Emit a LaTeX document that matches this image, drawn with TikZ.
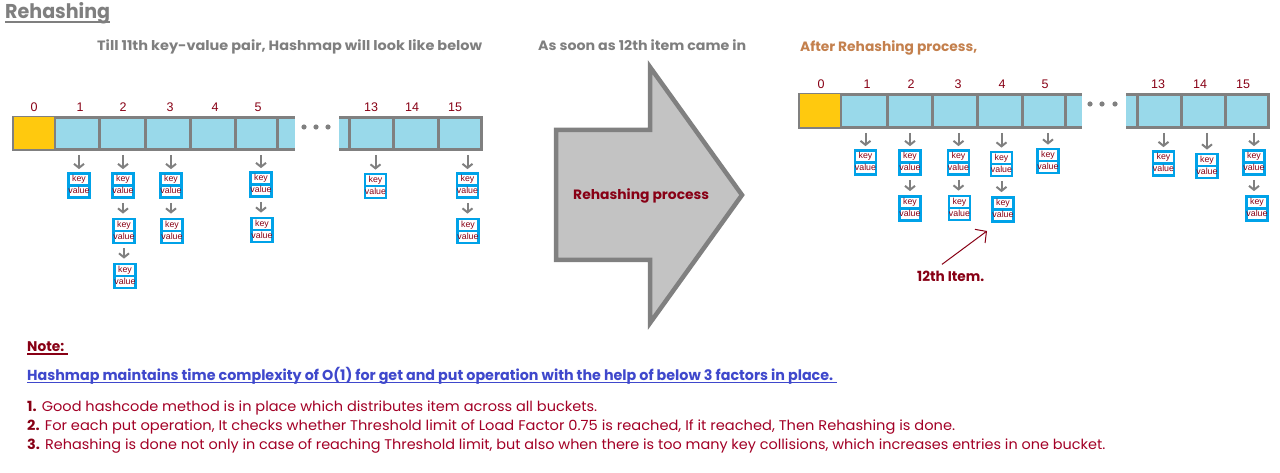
\documentclass[tikz,border=0pt]{standalone}
\usepackage{fontspec}
\usepackage{graphicx}
\setmainfont{Poppins}
\newfontfamily\arialf{Liberation Sans}
\usetikzlibrary{arrows.meta,shapes.multipart,calc}
\definecolor{bgray}{RGB}{128,128,128}
\definecolor{tgray}{RGB}{127,127,127}
\definecolor{cblue}{RGB}{153,217,234}
\definecolor{cyell}{RGB}{255,201,14}
\definecolor{kvblue}{RGB}{0,162,232}
\definecolor{dred}{RGB}{136,0,21}
\definecolor{nred}{RGB}{163,0,38}
\definecolor{ublue}{RGB}{63,72,204}
\definecolor{orng}{RGB}{196,128,77}
\definecolor{afill}{RGB}{195,195,195}
\newcommand{\fitw}[2]{\resizebox{#1}{\height}{#2}}
\newcommand{\kvs}{\rule[-1.9pt]{0pt}{7.6pt}}
\tikzset{
  cellbox/.style={draw=bgray, line width=3pt, fill=cblue, inner sep=0pt},
  border/.style={draw=bgray, line width=3pt},
  idx/.style={font=\arialf\fontsize{12.5}{13}\selectfont, text=dred, inner sep=0pt},
  kv/.style={rectangle split, rectangle split parts=2, draw=kvblue, line width=2.6pt,
    fill=white, minimum width=21pt, inner xsep=0pt, inner ysep=0.6pt,
    font=\arialf\fontsize{8.8}{9}\selectfont, text=dred, align=center},
  arr/.style={draw=bgray, line width=2pt, -{Straight Barb[length=4pt,width=10pt]}},
  txt/.style={inner sep=0pt, anchor=base west},
  ul/.style={line width=1.6pt},
}
\newcommand{\kvtext}{\kvs key\nodepart{two}\kvs value}
\begin{document}
\begin{tikzpicture}[x=1pt,y=-1pt]
\useasboundingbox (0,0) rectangle (1280,473);
\fill[white] (0,0) rectangle (1280,473);

% ---------- titles ----------
\node[txt, text=tgray, font=\bfseries\fontsize{20}{24}\selectfont] (title) at (5,19) {\fitw{105pt}{Rehashing}};
\draw[ul, tgray, line width=2pt] ($(title.base west)+(0,3)$) -- ($(title.base east)+(0,3)$);
\node[txt, text=tgray, font=\bfseries\fontsize{13.5}{16}\selectfont] (h1) at (97,51) {\fitw{385pt}{Till 11th key-value pair, Hashmap will look like below}};
\node[txt, text=tgray, font=\bfseries\fontsize{13.5}{16}\selectfont] (h2) at (538,51) {\fitw{208pt}{As soon as 12th item came in}};
\node[txt, text=orng, font=\bfseries\fontsize{13.5}{16}\selectfont] (h3) at (800,52) {\fitw{177pt}{After Rehashing process,}};

% ---------- left array ----------
\fill[cblue] (277,117.5) rectangle (295,149.5);
\draw[border] (277,117.5) -- (295,117.5) (277,149.5) -- (295,149.5);
\fill[cblue] (339,117.5) rectangle (349,149.5);
\draw[border] (339,117.5) -- (349,117.5) (339,149.5) -- (349,149.5);
\foreach \n/\c/\w in {0/33.75/40.5,1/76.5/45,2/122/46,3/167.5/45,4/212.5/45,5/256/42,13/371/44,14/415.5/45,15/459.75/43.5}
  \node[cellbox, minimum width=\w pt, minimum height=32pt] (L\n) at (\c,133.5) {};
\fill[cyell] ($(L0.north west)+(1.5,1.5)$) rectangle ($(L0.south east)+(-1.5,-1.5)$);
\foreach \n/\x in {0/34,1/80,2/123,3/170,4/215,5/258,13/371,14/412,15/455}
  \node[idx] (lL\n) at (\x,107.5) {\n};
\foreach \x in {304,316,328} \fill[bgray] (\x,127) circle (2.6);

% left chains
\node[kv] (kL1a) at (79,185.5) {\kvtext};
\node[kv] (kL2a) at (123,185.5) {\kvtext};
\node[kv] (kL2b) at (124,231) {\kvtext};
\node[kv] (kL2c) at (125,276) {\kvtext};
\node[kv] (kL3a) at (171,185.5) {\kvtext};
\node[kv] (kL3b) at (172,231) {\kvtext};
\node[kv] (kL5a) at (261,184.5) {\kvtext};
\node[kv] (kL5b) at (262,230) {\kvtext};
\node[kv] (kL13a) at (375.5,186) {\kvtext};
\node[kv] (kL15a) at (467.5,185.5) {\kvtext};
\node[kv] (kL15b) at (468,231) {\kvtext};
\foreach \c/\k in {L1/kL1a,L2/kL2a,L3/kL3a,L5/kL5a,L13/kL13a,L15/kL15a}
  \draw[arr, shorten <=4pt, shorten >=3pt] (\c.south -| \k.north) -- (\k.north);
\foreach \a/\b in {kL2a/kL2b,kL2b/kL2c,kL3a/kL3b,kL5a/kL5b,kL15a/kL15b}
  \draw[arr, shorten <=4pt, shorten >=4pt] (\a.south) -- (\a.south |- \b.north);

% ---------- big arrow ----------
\draw[draw=bgray, fill=afill, line width=4.5pt]
  (556,130) -- (650,130) -- (650,67) -- (742,195) -- (650,323) -- (650,260) -- (556,260) -- cycle;
\node[txt, text=dred, font=\bfseries\fontsize{13.5}{16}\selectfont] (proc) at (573,199.5) {\fitw{136pt}{Rehashing process}};

% ---------- right array ----------
\fill[cblue] (1065,94.5) rectangle (1082,127.5);
\draw[border] (1065,94.5) -- (1082,94.5) (1065,127.5) -- (1082,127.5);
\fill[cblue] (1126,94.5) rectangle (1137,127.5);
\draw[border] (1126,94.5) -- (1137,94.5) (1126,127.5) -- (1137,127.5);
\foreach \n/\c/\w in {0/819.75/40.5,1/863.5/47,2/909.5/45,3/954.5/45,4/999.5/45,5/1043.5/43,13/1159/44,14/1203/44,15/1246.75/43.5}
  \node[cellbox, minimum width=\w pt, minimum height=33pt] (R\n) at (\c,111) {};
\fill[cyell] ($(R0.north west)+(1.5,1.5)$) rectangle ($(R0.south east)+(-1.5,-1.5)$);
\foreach \n/\x in {0/821,1/867,2/911,3/958,4/1002,5/1045,13/1158,14/1200,15/1243}
  \node[idx] (lR\n) at (\x,84.5) {\n};
\foreach \x in {1090,1102,1115} \fill[bgray] (\x,104) circle (2.6);

% right chains
\node[kv] (kR1a) at (865.5,162.5) {\kvtext};
\node[kv] (kR2a) at (910,162.5) {\kvtext};
\node[kv] (kR2b) at (910,208.5) {\kvtext};
\node[kv] (kR3a) at (958.5,162.5) {\kvtext};
\node[kv] (kR3b) at (959.5,208) {\kvtext};
\node[kv] (kR4a) at (1001.5,164) {\kvtext};
\node[kv] (kR4b) at (1003,209.5) {\kvtext};
\node[kv] (kR5a) at (1048,161) {\kvtext};
\node[kv] (kR13a) at (1163.5,163.5) {\kvtext};
\node[kv] (kR14a) at (1207,166) {\kvtext};
\node[kv] (kR15a) at (1254,162.5) {\kvtext};
\node[kv] (kR15b) at (1257,208.5) {\kvtext};
\foreach \c/\k in {R1/kR1a,R2/kR2a,R3/kR3a,R4/kR4a,R5/kR5a,R13/kR13a,R14/kR14a,R15/kR15a}
  \draw[arr, shorten <=4pt, shorten >=3pt] (\c.south -| \k.north) -- (\k.north);
\foreach \a/\b in {kR2a/kR2b,kR3a/kR3b,kR4a/kR4b,kR15a/kR15b}
  \draw[arr, shorten <=4pt, shorten >=4pt] (\a.south) -- (\a.south |- \b.north);

% 12th item
\node[txt, text=dred, font=\bfseries\fontsize{14}{16}\selectfont] (item12) at (917,282) {\fitw{67pt}{12th Item.}};
\coordinate (tip12) at (987,231);
\draw[dred, line width=1pt, -{Straight Barb[length=8pt,width=17pt]}] ($(item12.north west)+(25,-7)$) -- (tip12);

% ---------- notes ----------
\node[txt, text=dred, font=\bfseries\fontsize{14}{16}\selectfont] (note) at (27,351) {\fitw{37pt}{Note:}};
\draw[ul, dred] ($(note.base west)+(0,3)$) -- ($(note.base east)+(4,3)$);
\node[txt, text=ublue, font=\bfseries\fontsize{14.5}{16}\selectfont] (hm) at (27,380) {\fitw{806pt}{Hashmap maintains time complexity of O(1) for get and put operation with the help of below 3 factors in place.}};
\draw[ul, ublue] ($(hm.base west)+(0,2.5)$) -- ($(hm.base east)+(4,2.5)$);
\node[txt, text=nred, font=\fontsize{14}{16}\selectfont] (n1) at (27,411) {\fitw{570pt}{{\bfseries\color{dred}1.} Good hashcode method is in place which distributes item across all buckets.}};
\node[txt, text=nred, font=\fontsize{14}{16}\selectfont] (n2) at (27,430) {\fitw{928pt}{{\bfseries\color{dred}2.} For each put operation, It checks whether Threshold limit of Load Factor 0.75 is reached, If it reached, Then Rehashing is done.}};
\node[txt, text=nred, font=\fontsize{14}{16}\selectfont] (n3) at (27,449) {\fitw{1078pt}{{\bfseries\color{dred}3.} Rehashing is done not only in case of reaching Threshold limit, but also when there is too many key collisions, which increases entries in one bucket.}};
\end{tikzpicture}
\end{document}
